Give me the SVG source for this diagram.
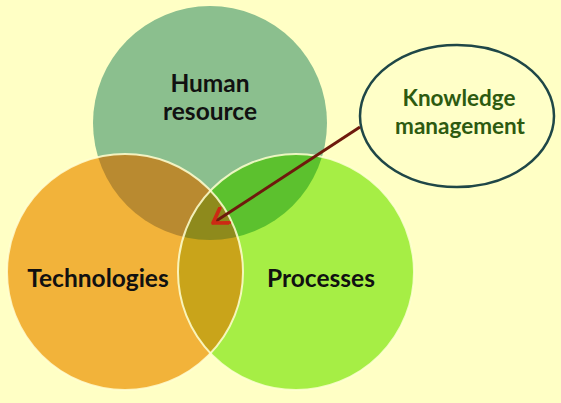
<svg xmlns="http://www.w3.org/2000/svg" width="561" height="403" viewBox="0 0 561 403">
<style>
.lbl{font-family:Lato,"Open Sans","Liberation Sans",sans-serif;font-weight:bold;fill:#111;text-anchor:middle;font-size:24.5px}
.km{font-family:Lato,"Open Sans","Liberation Sans",sans-serif;font-weight:bold;fill:#2D5A10;text-anchor:middle;font-size:22.5px}
.edge{fill:none;stroke:#FFFFD2;stroke-width:2;stroke-opacity:0.85}
</style>
<defs>
<clipPath id="cH"><circle cx="210" cy="123" r="117"/></clipPath>
<clipPath id="cT"><circle cx="125" cy="272" r="118"/></clipPath>
<clipPath id="cP"><circle cx="296" cy="272" r="118"/></clipPath>
<marker id="ah" markerUnits="userSpaceOnUse" markerWidth="20" markerHeight="20" refX="13" refY="8" orient="auto" viewBox="0 0 16 16">
<path d="M2,1 L13,8 L2,15" fill="none" stroke="#CC2A14" stroke-width="3" stroke-linecap="round" stroke-linejoin="round"/>
</marker>
</defs>
<rect width="561" height="403" fill="#FFFFC5"/>
<g id="human">
<circle cx="210" cy="123" r="117" fill="#8BBF8E"/>
</g>
<g id="technologies">
<circle cx="125" cy="272" r="118" fill="#F2B33A"/>
</g>
<g id="processes">
<circle cx="296" cy="272" r="118" fill="#A6EE45"/>
</g>
<g id="overlaps">
<circle cx="125" cy="272" r="118" fill="#B98A30" clip-path="url(#cH)"/>
<circle cx="296" cy="272" r="118" fill="#5CC12E" clip-path="url(#cH)"/>
<circle cx="296" cy="272" r="118" fill="#C9A41A" clip-path="url(#cT)"/>
<g clip-path="url(#cH)"><circle cx="296" cy="272" r="118" fill="#8E8A1C" clip-path="url(#cT)"/></g>
<circle class="edge" cx="125" cy="272" r="118"/>
<circle class="edge" cx="296" cy="272" r="118"/>
</g>
<g id="labels">
<text class="lbl" x="210" y="92">Human</text>
<text class="lbl" x="210" y="120">resource</text>
<text class="lbl" x="98" y="287">Technologies</text>
<text class="lbl" x="321" y="287">Processes</text>
</g>
<g id="knowledge-management">
<ellipse cx="457" cy="116" rx="97" ry="71" fill="#FFFFC8" stroke="#1F4747" stroke-width="2.5"/>
<text class="km" x="459" y="106">Knowledge</text>
<text class="km" x="460" y="134">management</text>
</g>
<g id="connectors">
<line x1="360" y1="127" x2="213" y2="223" stroke="#6E1A0C" stroke-width="3" marker-end="url(#ah)"/>
</g>
</svg>
